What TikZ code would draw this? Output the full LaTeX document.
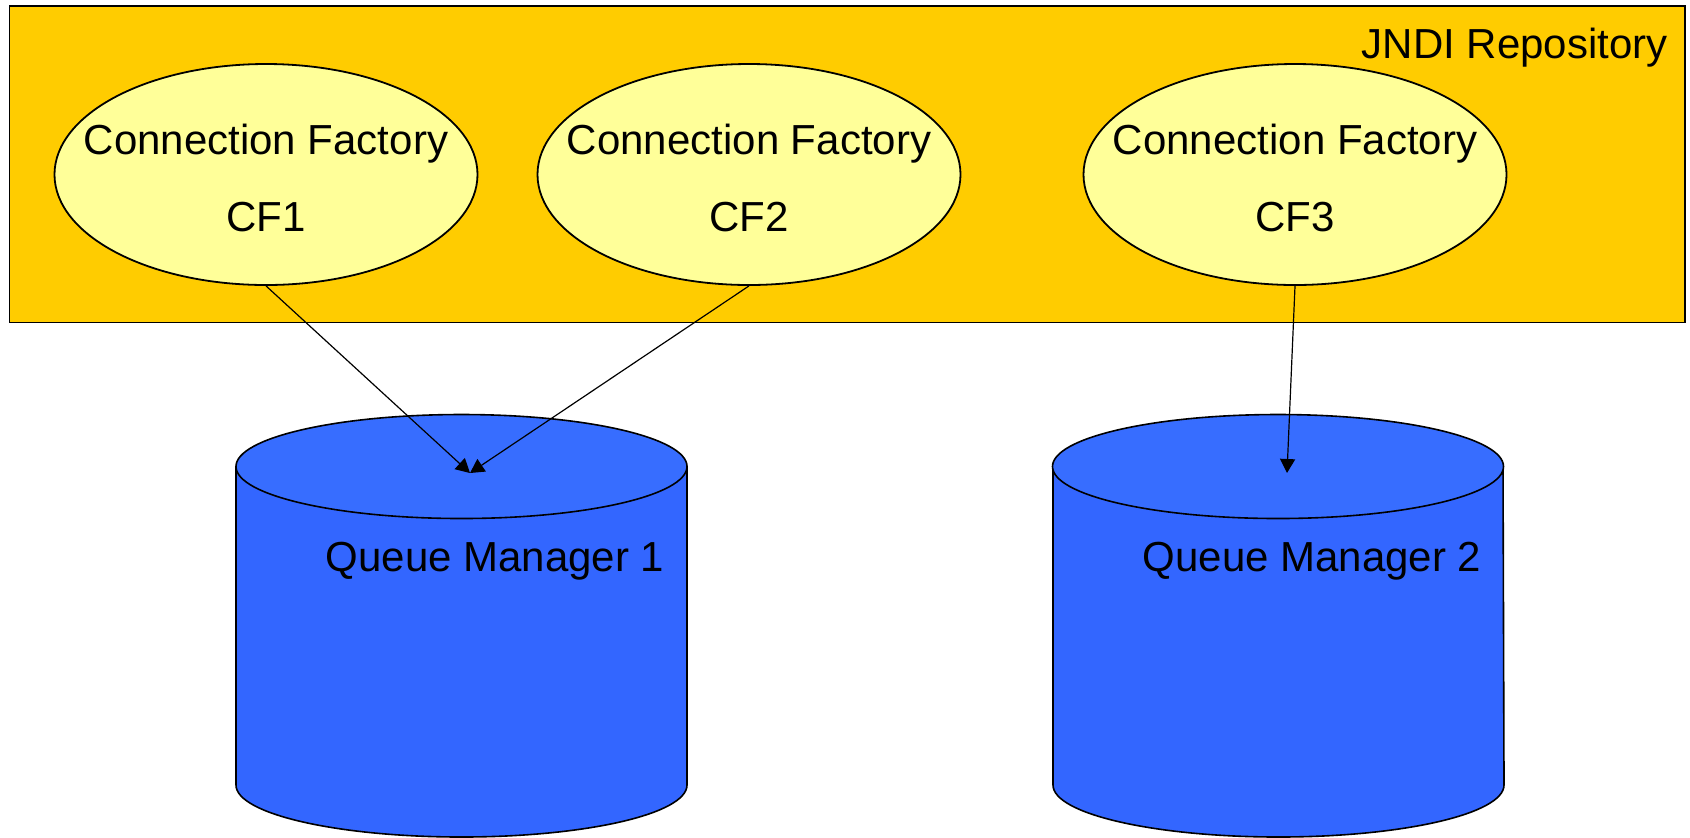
\documentclass[tikz,border=0pt]{standalone}
\usepackage{fontspec}
\setmainfont{Liberation Sans}
\usetikzlibrary{shapes.geometric,arrows.meta}
\definecolor{repofill}{HTML}{FFCC00}
\definecolor{cffill}{HTML}{FFFF99}
\definecolor{qmside}{HTML}{3366FF}
\definecolor{qmtop}{HTML}{376DFF}
\tikzset{
  repo/.style={draw=black, line width=0.9pt, fill=repofill},
  cf/.style={ellipse, draw=black, line width=0.9pt, fill=cffill,
             minimum width=211.5pt, minimum height=110.5pt, inner sep=0pt},
  lbl/.style={anchor=base, inner sep=0pt, font=\fontsize{21pt}{25pt}\selectfont},
  qmbody/.style={draw=black, line width=0.8pt, fill=qmside},
  qmlid/.style={draw=black, line width=0.8pt, fill=qmtop},
  link/.style={draw=black, line width=0.6pt, -{Triangle[length=7pt,width=7.5pt]}}
}
\begin{document}
\begin{tikzpicture}[x=0.5pt, y=-0.5pt]
  \useasboundingbox[fill=white] (0,0) rectangle (1690,837);

  % JNDI repository
  \path[repo] (9.5,6) rectangle (1685,322.5);
  \node[lbl, anchor=base east] (repolabel) at (1668,58) {JNDI Repository};

  % connection factories
  \node[cf] (cf1) at (266,174.5) {};
  \node[cf] (cf2) at (749,174.5) {};
  \node[cf] (cf3) at (1295,174.5) {};
  \node[lbl] (cf1a) at (266,154) {Connection Factory};
  \node[lbl] (cf1b) at (266,231.7) {CF1};
  \node[lbl] (cf2a) at (749,154) {Connection Factory};
  \node[lbl] (cf2b) at (749,231.7) {CF2};
  \node[lbl] (cf3a) at (1295,154) {Connection Factory};
  \node[lbl] (cf3b) at (1295,231.7) {CF3};

  % queue manager 1
  \path[qmbody] (236,466.5) -- (236,785)
     arc[start angle=180, end angle=360, x radius=112.75pt, y radius=26pt]
     -- (687,466.5) -- cycle;
  \path[qmlid] (461.5,466.5) ellipse [x radius=112.75pt, y radius=26pt];
  \node[lbl] (qm1) at (495,571.7) {Queue Manager 1};
  \coordinate (qm1in) at (470,473);

  % queue manager 2
  \path[qmbody] (1053,466.5) -- (1053,785)
     arc[start angle=180, end angle=360, x radius=112.75pt, y radius=26pt]
     -- (1503,466.5) -- cycle;
  \path[qmlid] (1278,466.5) ellipse [x radius=112.75pt, y radius=26pt];
  \node[lbl] (qm2) at (1312,571.7) {Queue Manager 2};
  \coordinate (qm2in) at (1287,473);

  % factory to queue manager links
  \draw[link] (cf1.south) -- (qm1in);
  \draw[link] (cf2.south) -- (qm1in);
  \draw[link] (cf3.south) -- (qm2in);
\end{tikzpicture}
\end{document}
